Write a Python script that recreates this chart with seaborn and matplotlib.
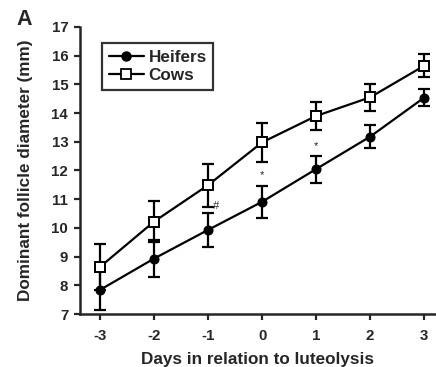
import matplotlib
matplotlib.use("Agg")
import matplotlib.pyplot as plt
import seaborn as sns
import pandas as pd
from matplotlib.lines import Line2D

days = [-3, -2, -1, 0, 1, 2, 3]
heifers = [7.84, 8.93, 9.93, 10.91, 12.05, 13.18, 14.54]
heifers_se = [0.70, 0.65, 0.60, 0.56, 0.47, 0.40, 0.30]
cows = [8.64, 10.22, 11.49, 12.98, 13.90, 14.55, 15.65]
cows_se = [0.80, 0.70, 0.75, 0.68, 0.50, 0.47, 0.40]
star_days = [0, 1]
star_y = [11.84, 12.86]
hash_day = -1
hash_y = 10.77

sns.set_theme(style="ticks")
plt.rcParams['font.family'] = ['Liberation Sans', 'DejaVu Sans']
plt.rcParams['font.weight'] = 'bold'

df = pd.DataFrame({
    "day": days * 2,
    "value": heifers + cows,
    "group": ["Heifers"] * len(days) + ["Cows"] * len(days),
})

fig = plt.figure(figsize=(4.36, 3.67), dpi=100)
ax = fig.add_axes([80/436, 53/367, 355/436, 287/367])

ax.errorbar(days, heifers, yerr=heifers_se, fmt='none', ecolor='black',
            elinewidth=1.6, capsize=4, capthick=1.6, zorder=2)
ax.errorbar(days, cows, yerr=cows_se, fmt='none', ecolor='black',
            elinewidth=1.6, capsize=4, capthick=1.6, zorder=2)

sns.lineplot(data=df, x="day", y="value", hue="group", style="group",
             palette={"Heifers": "black", "Cows": "black"},
             markers={"Heifers": "o", "Cows": "s"},
             dashes={"Heifers": "", "Cows": ""},
             linewidth=1.6, markersize=6.5, ax=ax, legend=False, zorder=3)
for ln in ax.get_lines():
    if ln.get_marker() == 's':
        ln.set_markerfacecolor('white')
        ln.set_markeredgecolor('black')
        ln.set_markeredgewidth(1.4)
        ln.set_markersize(7)
    elif ln.get_marker() == 'o':
        ln.set_markerfacecolor('black')
        ln.set_markeredgecolor('black')

for d, y in zip(star_days, star_y):
    ax.text(d, y, "*", ha='center', va='center', fontsize=8, fontweight='normal')
ax.text(hash_day + 0.15, hash_y, "#", ha='center', va='center', fontsize=8, fontweight='normal')

ax.set_xlim(-3.37, 3.2)
ax.set_ylim(7, 17)
ax.set_xticks(days)
ax.set_yticks(range(7, 18))
ax.set_xticklabels([str(d) for d in days])
sns.despine(ax=ax)
for s in ['left', 'bottom']:
    ax.spines[s].set_linewidth(1.8)
ax.tick_params(axis='both', which='major', length=4.5, width=1.6, labelsize=10.8)
ax.tick_params(axis='x', pad=6)
ax.tick_params(axis='y', pad=4)
for lab in ax.get_xticklabels() + ax.get_yticklabels():
    lab.set_fontweight('bold')

ax.set_xlabel("Days in relation to luteolysis", fontsize=12.3, fontweight='bold', labelpad=7)
ax.set_ylabel("Dominant follicle diameter (mm)", fontsize=12.3, fontweight='bold', labelpad=13)

handles = [
    Line2D([], [], color='black', marker='o', markersize=6.5, linewidth=1.6, markerfacecolor='black'),
    Line2D([], [], color='black', marker='s', markersize=6.5, linewidth=1.6, markerfacecolor='white', markeredgewidth=1.3),
]
leg = ax.legend(handles, ["Heifers", "Cows"], loc='upper left', bbox_to_anchor=(0.062, 0.944),
                frameon=True, fancybox=False, edgecolor='black',
                handlelength=2.1, handletextpad=0.25, borderpad=0.38, labelspacing=0.22,
                borderaxespad=0, prop={'weight': 'bold', 'size': 12.3})
leg.get_frame().set_linewidth(1.6)

fig.text(16/436, 1 - 25/367, "A", fontsize=15.5, fontweight='bold', ha='left', va='baseline')

fig.savefig("out.png", dpi=100)
